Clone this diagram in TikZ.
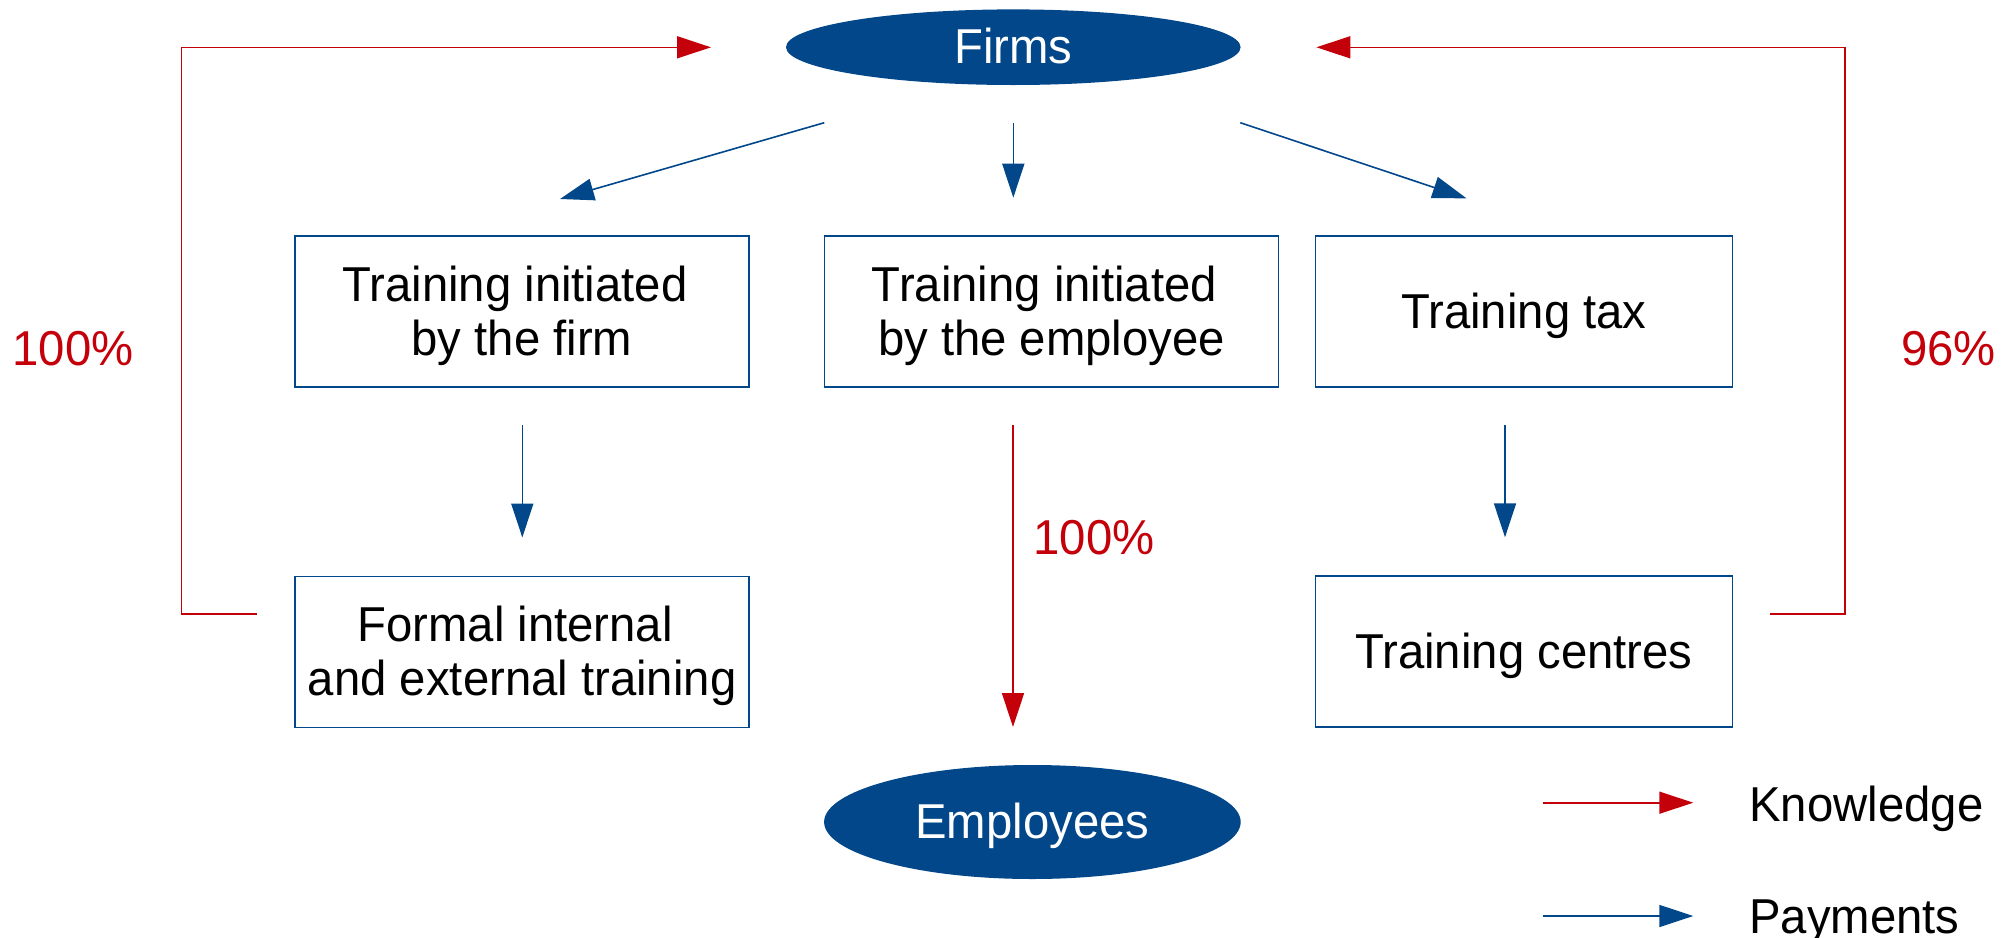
\documentclass[tikz,border=0pt]{standalone}
\usepackage{fontspec}
\setmainfont{Liberation Sans}[FakeStretch=0.965]
\usetikzlibrary{arrows.meta,shapes.geometric}
\definecolor{navy}{RGB}{1,71,137}
\definecolor{crimson}{RGB}{196,0,10}
\newcommand{\diagfont}{\fontsize{24.5pt}{27pt}\selectfont}
\newcommand{\lineone}{\rule{0pt}{21.8pt}}

\begin{document}
\begin{tikzpicture}[x=0.5pt,y=-0.5pt,
  every node/.style={font=\diagfont},
  hub/.style={ellipse, fill=navy, text=white, inner sep=0pt,
    text height=21pt, text depth=5pt},
  box/.style={draw=navy, line width=0.9pt, align=center, inner sep=0pt,
    minimum height=75.5pt},
  widebox/.style={box, minimum width=227pt},
  narrowbox/.style={box, minimum width=208.5pt},
  pay/.style={draw=navy, line width=0.8pt, -{Triangle[length=17pt,width=11pt]}},
  know/.style={draw=crimson, line width=0.8pt, -{Triangle[length=17pt,width=11pt]}},
  pct/.style={text=crimson, inner sep=0pt, anchor=base},
  legendtext/.style={inner sep=0pt, anchor=base west}]
\useasboundingbox (0,0) rectangle (2010,938);

% actors
\node[hub, minimum width=227.3pt, minimum height=37.8pt] (firms) at (1013.3,47.2) {Firms};
\node[hub, minimum width=208.3pt, minimum height=57pt] (employees) at (1032.4,822) {Employees};

% training routes
\node[widebox] (initfirm) at (522,311.3) {\lineone Training initiated\kern7pt\\by the firm};
\node[widebox] (initemp) at (1051.5,311.5) {\lineone Training initiated\kern7pt\\by the employee};
\node[narrowbox] (tax) at (1523.9,311.5) {\lineone Training tax};
\node[widebox] (formal) at (522.2,652) {\lineone Formal internal\kern7pt\\and external training};
\node[narrowbox] (centres) at (1523.9,651.7) {\lineone Training centres};

% connector end points
\coordinate (p1s) at (824.3,122.7);  \coordinate (p1e) at (560,199);
\coordinate (p2s) at (1013.3,122.7); \coordinate (p2e) at (1013.3,197.7);
\coordinate (p3s) at (1240.3,122.7); \coordinate (p3e) at (1466.5,198.3);
\coordinate (p4s) at (522.3,425);    \coordinate (p4e) at (522.3,537.5);
\coordinate (p5s) at (1505,425);     \coordinate (p5e) at (1505,537.3);
\coordinate (k1s) at (1013,425);     \coordinate (k1e) at (1013,727);
\coordinate (kls) at (257,614);      \coordinate (klt) at (181.6,47.3);
\coordinate (kle) at (711,47.3);
\coordinate (krs) at (1769.6,614);   \coordinate (krt) at (1845,47.3);
\coordinate (kre) at (1316.4,47.3);

% payments
\draw[pay] (p1s) -- (p1e);
\draw[pay] (p2s) -- (p2e);
\draw[pay] (p3s) -- (p3e);
\draw[pay] (p4s) -- (p4e);
\draw[pay] (p5s) -- (p5e);

% knowledge flows
\draw[know] (k1s) -- (k1e);
\draw[know] (kls) -| (klt) -- (kle);
\draw[know] (krs) -| (krt) -- (kre);

% shares
\node[pct] (shareleft) at (72.9,365.7) {100\%};
\node[pct] (sharemid) at (1094,554) {100\%};
\node[pct] (shareright) at (1948.5,365) {96\%};

% legend
\coordinate (lk1) at (1542.7,802.7); \coordinate (lk2) at (1693.3,802.7);
\coordinate (lp1) at (1542.7,916);   \coordinate (lp2) at (1693.3,916);
\draw[know] (lk1) -- (lk2);
\draw[pay] (lp1) -- (lp2);
\node[legendtext] (knowledge) at (1749,821) {Knowledge};
\node[legendtext] (payments) at (1749,933.3) {Payments};
\end{tikzpicture}
\end{document}
